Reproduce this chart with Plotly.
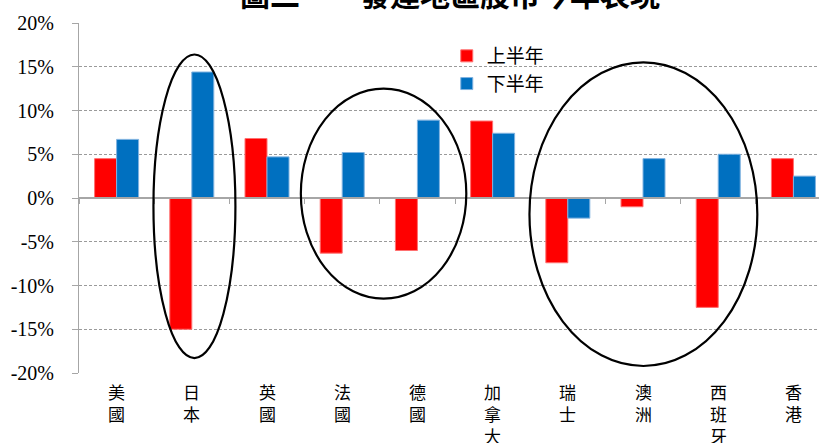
import plotly.graph_objects as go

# Market returns by region, in percent
regions = ["美國", "日本", "英國", "法國", "德國", "加拿大", "瑞士", "澳洲", "西班牙", "香港"]
first_half = [4.5, -15.0, 6.8, -6.3, -6.0, 8.8, -7.4, -1.0, -12.5, 4.5]
second_half = [6.7, 14.4, 4.7, 5.2, 8.9, 7.4, -2.3, 4.5, 5.0, 2.5]
series_names = ["上半年", "下半年"]

y_tick_vals = [-20, -15, -10, -5, 0, 5, 10, 15, 20]
y_tick_text = ["-20%", "-15%", "-10%", "-5%", "0%", "5%", "10%", "15%", "20%"]

title_text = "圖二\u3000\u3000發達地區股市今年表現"

RED = "#FF0000"
BLUE = "#0070C0"
GRID = "#9A9A9A"
AXIS = "#A6A6A6"
CJK = "Noto Sans CJK TC"
SERIF = "Liberation Serif"

fig = go.Figure()
fig.add_trace(go.Bar(
    x=regions, y=first_half, name=series_names[0],
    marker=dict(color=RED, line=dict(color="#FF7070", width=1)),
))
fig.add_trace(go.Bar(
    x=regions, y=second_half, name=series_names[1],
    marker=dict(color=BLUE, line=dict(color="#7FB2E0", width=1)),
))

# Highlight ellipses around groups of regions (x in category index units)
highlight_groups = [
    dict(x0=0.49, x1=1.58, y0=-18.3, y1=16.4),
    dict(x0=2.45, x1=4.65, y0=-11.5, y1=12.5),
    dict(x0=5.49, x1=8.52, y0=-19.2, y1=15.5),
]
for g in highlight_groups:
    fig.add_shape(type="circle", xref="x", yref="y",
                  x0=g["x0"], x1=g["x1"], y0=g["y0"], y1=g["y1"],
                  line=dict(color="black", width=2.2), layer="above")

# Vertical category labels under the plot
for name in regions:
    fig.add_annotation(x=name, xref="x", y=-0.012, yref="paper",
                       yanchor="top", xanchor="center", showarrow=False,
                       text="<br>".join(name),
                       font=dict(family=CJK, size=17, color="black"))

fig.add_annotation(x=0.501, xref="paper", y=1.087, yref="paper",
                   xanchor="center", yanchor="middle", showarrow=False,
                   text="<b>" + title_text + "</b>",
                   font=dict(family=CJK, size=30, color="black"))

fig.update_layout(
    width=819, height=443,
    margin=dict(l=79, r=0, t=23, b=70),
    paper_bgcolor="white", plot_bgcolor="white",
    barmode="group", bargap=0.415, bargroupgap=0,
    showlegend=True,
    legend=dict(x=0.497, y=0.96, xanchor="left", yanchor="top",
                bgcolor="rgba(0,0,0,0)", font=dict(family=CJK, size=19, color="black"),
                traceorder="normal"),
    xaxis=dict(
        type="category", range=[-0.5, 9.34],
        anchor="free", position=0.5,
        showline=True, linecolor=AXIS, linewidth=2,
        ticks="outside", tickson="boundaries", ticklen=5, tickcolor=AXIS, tickwidth=1,
        showticklabels=False, showgrid=False, zeroline=False,
    ),
    yaxis=dict(
        range=[-20, 20], tickvals=y_tick_vals, ticktext=y_tick_text,
        showline=True, linecolor=AXIS, linewidth=1,
        ticks="outside", ticklen=6, tickcolor=AXIS,
        showgrid=True, gridcolor=GRID, griddash="3px,2px", gridwidth=1,
        zeroline=False,
        tickfont=dict(family=SERIF, size=20, color="black"),
        ticklabelstandoff=14,
    ),
)

fig.write_html("out.html")
